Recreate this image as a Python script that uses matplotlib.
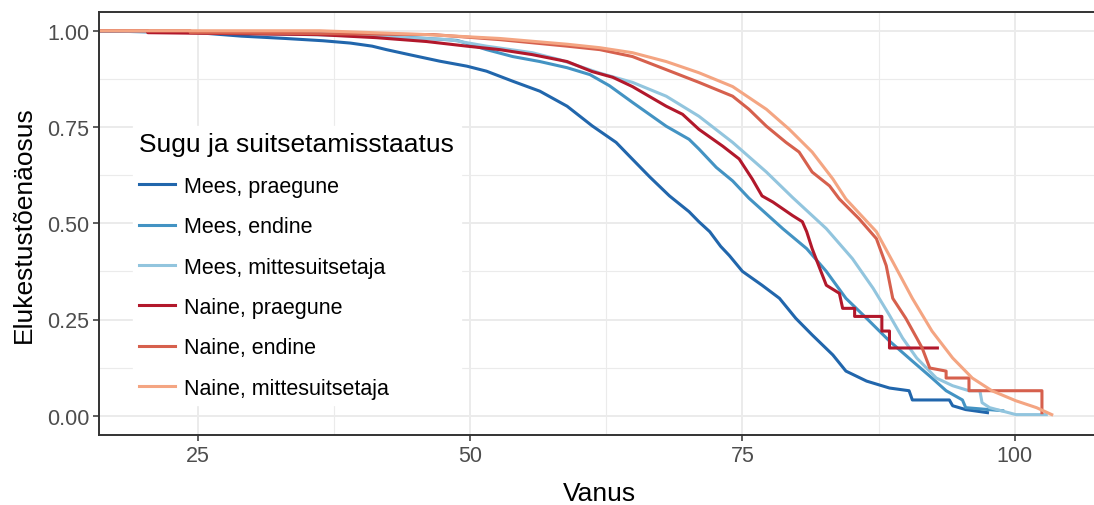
import matplotlib
matplotlib.use("Agg")
import matplotlib.pyplot as plt
from matplotlib.ticker import MultipleLocator

plt.rcParams['font.family'] = ['Liberation Sans', 'DejaVu Sans']

# ---- data ----
labels = ["Mees, praegune", "Mees, endine", "Mees, mittesuitsetaja",
          "Naine, praegune", "Naine, endine", "Naine, mittesuitsetaja"]
colors = ["#2166AC", "#4393C3", "#92C5DE", "#B2182B", "#D6604D", "#F4A582"]

mp_age = [15, 25, 29, 33, 36.5, 39, 41, 42.3, 44.4, 47.2, 49.7, 51.5, 53.9, 56.4,
          58.9, 61.2, 63.4, 64.6, 66.5, 68.3, 70.1, 71, 72, 73, 73.8, 75, 76.8,
          78.4, 79.9, 81.4, 83.3, 84.5, 86.4, 88.5, 90.3, 90.6, 94, 94.3, 95.5, 97.5]
mp_surv = [1.0, 0.995, 0.986, 0.98, 0.974, 0.968, 0.96, 0.951, 0.938, 0.921, 0.908,
           0.895, 0.869, 0.843, 0.804, 0.753, 0.71, 0.675, 0.62, 0.571, 0.53, 0.504,
           0.478, 0.44, 0.416, 0.375, 0.339, 0.305, 0.253, 0.21, 0.158, 0.116, 0.09,
           0.072, 0.065, 0.041, 0.041, 0.026, 0.016, 0.008]

me_age = [15, 40, 46, 48.8, 51.5, 53.9, 56.4, 58.9, 61, 62.8, 64.9, 67.1, 68,
          70.1, 71, 72.6, 74.1, 75.6, 78.7, 80.9, 82.7, 84.5, 86.4, 88.5, 90.6,
          92.4, 93.7, 95.2, 95.5, 98.9]
me_surv = [1.0, 0.99, 0.98, 0.975, 0.951, 0.933, 0.92, 0.904, 0.886, 0.857,
           0.814, 0.77, 0.752, 0.718, 0.693, 0.645, 0.61, 0.565, 0.486, 0.434, 0.375,
           0.305, 0.253, 0.194, 0.142, 0.098, 0.065, 0.041, 0.021, 0.013]

ml_age = [15, 35, 42, 48.1, 51.5, 55.7, 58.2, 61.9, 64.9, 68, 71, 74.1, 77.2, 79.6,
          82.7, 85.1, 87, 88.5, 89.7, 91, 92.8, 94.3, 95.8, 96.8, 97, 97.7, 100.1, 102.9]
ml_surv = [1.0, 0.99, 0.985, 0.977, 0.96, 0.943, 0.925, 0.89, 0.866, 0.83, 0.778,
           0.71, 0.633, 0.567, 0.486, 0.408, 0.331, 0.261, 0.202, 0.15, 0.098, 0.078,
           0.065, 0.065, 0.034, 0.021, 0.003, 0.003]

np_age = [15, 20.4, 20.4, 36, 41.4, 46, 49.7, 52.7, 55.7, 58.9, 61.2, 63.1, 64.9, 68,
          69.5, 71, 73.2, 74.7, 75.9, 76.8, 77.8, 79.6, 80.5, 80.9, 81.4, 82, 82.7,
          83.9, 84.2, 85.3, 85.3, 87.8, 87.8, 88.5, 88.5, 92.9]
np_surv = [1.0, 1.0, 0.995, 0.99, 0.982, 0.972, 0.96, 0.951, 0.938, 0.92, 0.894,
           0.879, 0.855, 0.804, 0.783, 0.744, 0.7, 0.667, 0.615, 0.571, 0.555, 0.52,
           0.504, 0.478, 0.434, 0.39, 0.339, 0.318, 0.279, 0.279, 0.258, 0.258, 0.22,
           0.22, 0.176, 0.176]

ne_age = [15, 24.3, 24.3, 46.6, 52.7, 58.9, 61.9, 64.9, 68, 71, 74.1, 75.6, 77.2, 79,
          80.2, 81.4, 83, 83.9, 85.7, 87.3, 88.2, 88.8, 90, 91, 91.5, 92.2, 93.7,
          93.7, 95.8, 95.8, 102.5, 102.5]
ne_surv = [1.0, 1.0, 0.995, 0.99, 0.977, 0.96, 0.951, 0.933, 0.899, 0.866, 0.83,
           0.796, 0.752, 0.71, 0.685, 0.633, 0.597, 0.563, 0.512, 0.46, 0.39, 0.305,
           0.253, 0.202, 0.176, 0.124, 0.116, 0.098, 0.098, 0.065, 0.065, 0.008]

nn_age = [15, 36.2, 46, 52.7, 58.9, 61.9, 64.9, 68, 71, 74.1, 77.2, 79.3, 81.4, 83.3,
          84.5, 87.3, 88.8, 90.6, 92.4, 94.3, 96.1, 97.9, 100.1, 102, 103.4]
nn_surv = [1.0, 1.0, 0.99, 0.98, 0.965, 0.956, 0.943, 0.92, 0.891, 0.855, 0.796,
           0.744, 0.685, 0.615, 0.563, 0.478, 0.4, 0.305, 0.22, 0.15, 0.098, 0.065,
           0.039, 0.021, 0.003]

series_age = [mp_age, me_age, ml_age, np_age, ne_age, nn_age]
series_surv = [mp_surv, me_surv, ml_surv, np_surv, ne_surv, nn_surv]

x_ticks = [25, 50, 75, 100]
y_ticks = [0.0, 0.25, 0.5, 0.75, 1.0]
y_tick_labels = ["0.00", "0.25", "0.50", "0.75", "1.00"]

# ---- figure ----
W, H = 1094, 506
fig = plt.figure(figsize=(W / 100, H / 100), dpi=100)
ax = fig.add_axes([99 / W, (H - 436) / H, (1100 - 99) / W, (436 - 12.5) / H])

for a, s, lab, c in zip(series_age, series_surv, labels, colors):
    ax.plot(a, s, color=c, lw=2.2, label=lab, solid_joinstyle='round')

ax.set_xlim(15.92, 107.83)
ax.set_ylim(-0.05, 1.05)
ax.set_xticks(x_ticks)
ax.set_yticks(y_ticks)
ax.set_yticklabels(y_tick_labels)
ax.xaxis.set_minor_locator(MultipleLocator(12.5))
ax.yaxis.set_minor_locator(MultipleLocator(0.125))

ax.grid(which='major', color='#EBEBEB', lw=1.4)
ax.grid(which='minor', color='#EBEBEB', lw=0.8)
ax.set_axisbelow(True)

ax.tick_params(which='major', length=4.5, width=1.1, color='#333333',
               labelcolor='#4D4D4D', labelsize=15.5, pad=2.5)
ax.tick_params(which='minor', length=0)
for sp in ax.spines.values():
    sp.set_color('#333333')
    sp.set_linewidth(1.4)

ax.set_xlabel("Vanus", fontsize=19, color='black', labelpad=11)
ax.set_ylabel("Elukestustõenäosus", fontsize=19, color='black', labelpad=8)

leg = ax.legend(loc='upper left', bbox_to_anchor=(133 / W, 1 - 127 / H),
                bbox_transform=fig.transFigure, frameon=True, fontsize=15.5,
                title="Sugu ja suitsetamisstaatus", title_fontsize=19,
                handlelength=1.65, handletextpad=0.42, labelspacing=0.9,
                borderpad=0.3, borderaxespad=0, alignment='left', fancybox=False)
leg.get_frame().set_facecolor('white')
leg.get_frame().set_edgecolor('white')
leg.get_frame().set_alpha(1)
for ln in leg.get_lines():
    ln.set_linewidth(2.2)

fig.savefig("out.png", dpi=100)
